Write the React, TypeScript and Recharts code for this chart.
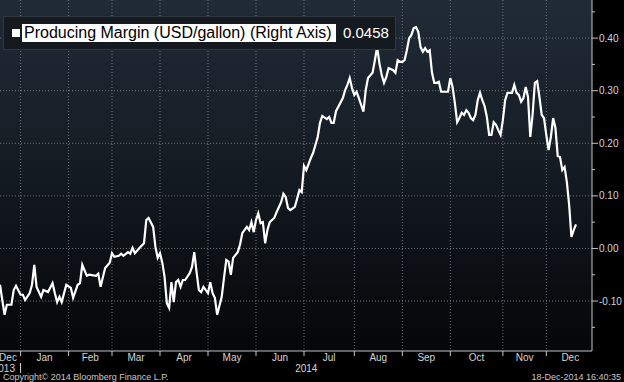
import React from 'react';
import { LineChart, Line, XAxis, YAxis, CartesianGrid } from 'recharts';

// ---- data (x = trading-day index from 2 Jan 2014) ----
const seriesName = 'Producing Margin (USD/gallon) (Right Axis)';
const lastValueLabel = '0.0458';

const days = [
  -9, -8, -7, -6, -4, -3, -2, 0, 1, 2,
  4, 5, 6, 7, 9, 10, 12, 14, 15, 16,
  17, 18, 20, 22, 23, 25, 26, 27, 29, 30,
  33, 34, 35, 37, 39, 40, 41, 43, 44, 45,
  47, 48, 49, 50, 52, 54, 55, 56, 58, 59,
  60, 61, 62, 63, 64, 65, 66, 67, 68, 69,
  70, 71, 72, 74, 75, 76, 77, 78, 79, 80,
  82, 83, 84, 85, 86, 88, 89, 90, 91, 92,
  93, 95, 96, 97, 99, 100, 101, 102, 103, 104,
  105, 106, 107, 108, 109, 110, 111, 112, 114, 115,
  116, 117, 118, 120, 122, 123, 124, 125, 127, 128,
  130, 131, 132, 134, 135, 136, 137, 138, 141, 142,
  143, 144, 145, 146, 147, 148, 150, 151, 152, 154,
  155, 156, 157, 158, 159, 160, 161, 163, 164, 165,
  166, 167, 168, 169, 170, 171, 172, 173, 174, 175,
  176, 177, 178, 179, 180, 181, 182, 183, 184, 187,
  188, 189, 190, 191, 192, 193, 194, 195, 196, 197,
  198, 199, 200, 201, 202, 203, 204, 205, 206, 207,
  208, 209, 210, 211, 212, 213, 215, 216, 217, 218,
  219, 220, 221, 222, 223, 224, 225, 226, 227, 228,
  229, 230, 231, 232, 233, 234, 235, 236, 237, 238,
  239, 240, 241, 242, 243,
];

const margins = [
  -0.069, -0.098, -0.126, -0.107, -0.107, -0.079, -0.071, -0.088, -0.088, -0.098,
  -0.085, -0.069, -0.031, -0.073, -0.092, -0.079, -0.083, -0.066, -0.085, -0.102,
  -0.092, -0.102, -0.069, -0.075, -0.094, -0.069, -0.066, -0.031, -0.052, -0.050,
  -0.052, -0.048, -0.073, -0.037, -0.027, -0.009, -0.016, -0.014, -0.010, -0.014,
  -0.007, -0.010, 0.001, -0.009, 0.001, 0.010, 0.054, 0.058, 0.041, 0.003,
  -0.018, -0.009, -0.027, -0.054, -0.104, -0.113, -0.064, -0.102, -0.064, -0.060,
  -0.073, -0.060, -0.060, -0.047, -0.035, -0.007, -0.045, -0.079, -0.083, -0.073,
  -0.085, -0.064, -0.085, -0.094, -0.126, -0.092, -0.056, -0.022, -0.025, -0.050,
  -0.018, -0.007, 0.007, 0.029, 0.041, 0.035, 0.050, 0.031, 0.054, 0.067,
  0.048, 0.050, 0.010, 0.035, 0.050, 0.054, 0.058, 0.069, 0.088, 0.104,
  0.098, 0.077, 0.073, 0.079, 0.111, 0.107, 0.157, 0.149, 0.172, 0.182,
  0.212, 0.239, 0.252, 0.246, 0.250, 0.239, 0.239, 0.261, 0.286, 0.301,
  0.311, 0.324, 0.305, 0.292, 0.298, 0.286, 0.260, 0.301, 0.324, 0.334,
  0.358, 0.383, 0.352, 0.330, 0.315, 0.326, 0.343, 0.339, 0.334, 0.358,
  0.355, 0.355, 0.358, 0.377, 0.400, 0.406, 0.419, 0.421, 0.412, 0.383,
  0.374, 0.381, 0.374, 0.377, 0.334, 0.315, 0.315, 0.317, 0.298, 0.298,
  0.324, 0.307, 0.277, 0.240, 0.248, 0.258, 0.254, 0.263, 0.258, 0.248,
  0.244, 0.254, 0.282, 0.296, 0.282, 0.271, 0.250, 0.216, 0.216, 0.240,
  0.235, 0.225, 0.216, 0.244, 0.282, 0.296, 0.296, 0.311, 0.296, 0.292,
  0.279, 0.286, 0.307, 0.288, 0.212, 0.254, 0.315, 0.318, 0.288, 0.254,
  0.248, 0.216, 0.187, 0.212, 0.248, 0.229, 0.176, 0.174, 0.149, 0.155,
  0.126, 0.083, 0.022, 0.035, 0.0458,
];

const monthStartDays = [0, 21, 40, 61, 82, 103, 124, 146, 167, 188, 211, 230];
const monthLabelDays = [-5.5, 10.5, 30.5, 50.5, 71.5, 92.5, 113.5, 135, 156.5, 177.5, 199.5, 220.5, 240.5];
const monthLabels = ['Dec', 'Jan', 'Feb', 'Mar', 'Apr', 'May', 'Jun', 'Jul', 'Aug', 'Sep', 'Oct', 'Nov', 'Dec'];
const yearLabelDays = [-9, 125];
const yearLabels = ['2013', '2014'];
const yearBoundaryDays = [0];

const yMajorTicks = [-0.1, 0, 0.1, 0.2, 0.3, 0.4];
const yAllTicks = [-0.15, -0.1, -0.05, 0, 0.05, 0.1, 0.15, 0.2, 0.25, 0.3, 0.35, 0.4, 0.45];

const xDomain = [-9, 250];
const yDomain = [-0.195, 0.4725];

const copyrightText = 'Copyright\u00A9 2014 Bloomberg Finance L.P.';
const timestampText = '18-Dec-2014 16:40:35';

// ---- styles ----
const W = 624;
const H = 382;
const AXIS = '#c4c4c4';
const LABEL = '#d4d4d4';
const GRID = '#6c737b';
const FONT = '"Liberation Sans", Arial, sans-serif';

const data = days.map((d, i) => ({ d, v: margins[i] }));

const isMajor = (v: number) => yMajorTicks.some((m) => Math.abs(m - v) < 1e-9);

const RightTick = (props: any) => {
  const { x, y, payload } = props;
  const v = payload.value as number;
  const major = isMajor(v);
  return (
    <g>
      <line x1={x} x2={x + (major ? 6 : 3)} y1={y} y2={y} stroke={AXIS} strokeWidth={1} />
      {major && (
        <text x={x + 7} y={y} dy={3.5} fill={LABEL} fontSize={10} fontFamily={FONT} textAnchor="start">
          {v.toFixed(2)}
        </text>
      )}
    </g>
  );
};

const MonthTick = (props: any) => {
  const { x, y, payload } = props;
  const v = payload.value as number;
  if (monthStartDays.indexOf(v) >= 0) {
    return <line x1={x} x2={x} y1={y} y2={y + 5} stroke={AXIS} strokeWidth={1} />;
  }
  const j = monthLabelDays.indexOf(v);
  return (
    <text x={x} y={y + 10} fill={LABEL} fontSize={10} fontFamily={FONT} textAnchor="middle">
      {monthLabels[j]}
    </text>
  );
};

const YearTick = (props: any) => {
  const { x, y, payload } = props;
  const v = payload.value as number;
  if (yearBoundaryDays.indexOf(v) >= 0) {
    return <line x1={x} x2={x} y1={y} y2={y + 10} stroke={LABEL} strokeWidth={1} />;
  }
  const j = yearLabelDays.indexOf(v);
  const first = j === 0;
  return (
    <text
      x={first ? x + 15 : x}
      y={y + 8.5}
      fill={LABEL}
      fontSize={10}
      fontFamily={FONT}
      textAnchor={first ? 'end' : 'middle'}
    >
      {yearLabels[j]}
    </text>
  );
};

export default function App() {
  return (
    <div
      style={{
        position: 'absolute',
        left: 0,
        top: 0,
        width: W,
        height: H,
        background: '#000',
        overflow: 'hidden',
        fontFamily: FONT,
      }}
    >
      {/* plot background gradient */}
      <div
        style={{
          position: 'absolute',
          left: 0,
          top: 0,
          width: 592,
          height: 351,
          background: 'linear-gradient(to bottom, #202b37 0%, #151c24 45%, #050607 100%)',
        }}
      />
      <div style={{ position: 'absolute', left: 0, top: 0 }}>
        <LineChart width={W} height={H} data={data} margin={{ top: 0, right: 0, bottom: 0, left: 0 }}>
          <XAxis
            xAxisId="m"
            dataKey="d"
            type="number"
            domain={xDomain}
            allowDataOverflow
            ticks={[...monthStartDays, ...monthLabelDays].sort((a, b) => a - b)}
            interval={0}
            tick={<MonthTick />}
            tickLine={false}
            tickSize={0}
            tickMargin={0}
            axisLine={{ stroke: AXIS, strokeWidth: 1 }}
            height={12}
          />
          <XAxis
            xAxisId="y"
            dataKey="d"
            type="number"
            domain={xDomain}
            allowDataOverflow
            ticks={[...yearLabelDays, ...yearBoundaryDays].sort((a, b) => a - b)}
            interval={0}
            tick={<YearTick />}
            tickLine={false}
            tickSize={0}
            tickMargin={0}
            axisLine={false}
            height={19}
          />
          <YAxis
            yAxisId="r"
            orientation="right"
            type="number"
            domain={yDomain}
            allowDataOverflow
            ticks={yAllTicks}
            interval={0}
            tick={<RightTick />}
            tickLine={false}
            tickSize={0}
            tickMargin={0}
            axisLine={{ stroke: AXIS, strokeWidth: 1 }}
            width={32}
          />
          <CartesianGrid
            xAxisId="m"
            yAxisId="r"
            horizontalValues={yMajorTicks}
            verticalValues={monthStartDays}
            stroke={GRID}
            strokeDasharray="1 2"
            fill="none"
          />
          <Line
            xAxisId="m"
            yAxisId="r"
            dataKey="v"
            type="linear"
            stroke="#ffffff"
            strokeWidth={2.2}
            dot={false}
            activeDot={false}
            isAnimationActive={false}
          />
        </LineChart>
      </div>

      {/* legend box */}
      <div
        style={{
          position: 'absolute',
          left: 3,
          top: 16,
          width: 393,
          height: 34,
          boxSizing: 'border-box',
          background: '#141a20',
          border: '1px solid #30363d',
        }}
      >
        <div style={{ position: 'absolute', left: 8, top: 12, width: 8, height: 8, background: '#ffffff' }} />
        <div
          style={{
            position: 'absolute',
            left: 18,
            top: 7,
            height: 18,
            lineHeight: '18px',
            background: '#ffffff',
            color: '#000000',
            fontSize: 16,
            padding: '0 4px 0 2px',
            whiteSpace: 'nowrap',
          }}
        >
          {seriesName}
        </div>
        <div
          style={{
            position: 'absolute',
            left: 339,
            top: 7,
            height: 18,
            lineHeight: '18px',
            color: '#ffffff',
            fontSize: 15,
            whiteSpace: 'nowrap',
          }}
        >
          {lastValueLabel}
        </div>
      </div>

      {/* footer */}
      <div
        style={{
          position: 'absolute',
          left: 3,
          top: 373,
          fontSize: 9,
          lineHeight: '9px',
          color: '#c8c8c8',
          whiteSpace: 'nowrap',
        }}
      >
        {copyrightText}
      </div>
      <div
        style={{
          position: 'absolute',
          right: 3,
          top: 373,
          fontSize: 9,
          lineHeight: '9px',
          color: '#c8c8c8',
          whiteSpace: 'nowrap',
        }}
      >
        {timestampText}
      </div>
    </div>
  );
}
